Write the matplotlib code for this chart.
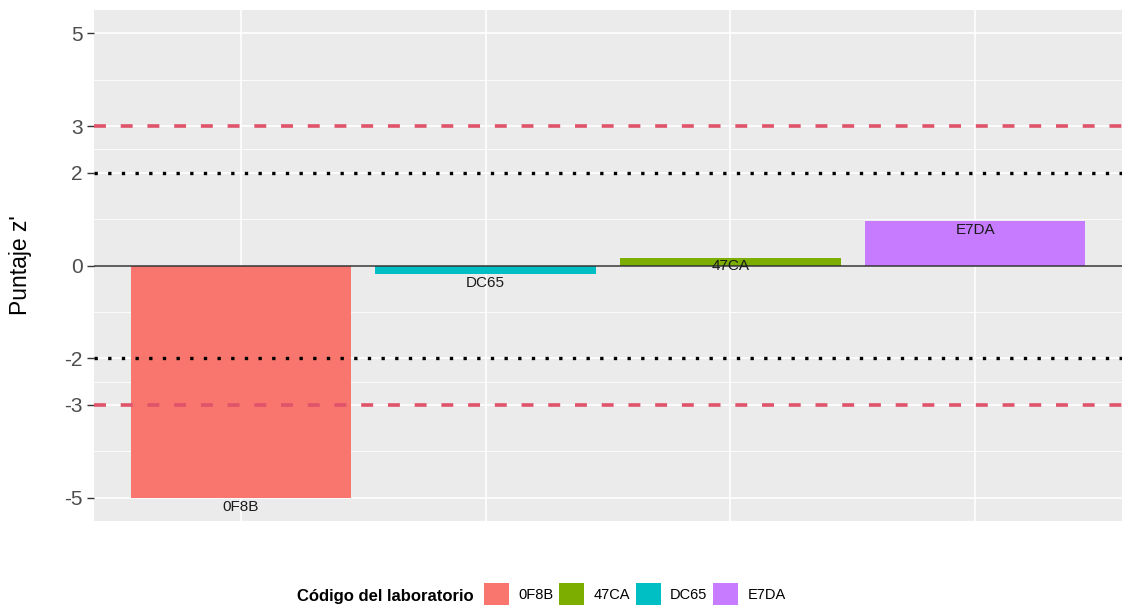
import matplotlib.pyplot as plt
from matplotlib.patches import Patch

plt.rcParams['font.family'] = ['Liberation Sans', 'DejaVu Sans']

# data
labs = ['0F8B', 'DC65', '47CA', 'E7DA']
scores = [-5.0, -0.19, 0.17, 0.95]
lab_colors = {'0F8B': '#F8766D', '47CA': '#7CAE00', 'DC65': '#00BFC4', 'E7DA': '#C77CFF'}
legend_order = ['0F8B', '47CA', 'DC65', 'E7DA']
y_ticks = [-5, -3, -2, 0, 2, 3, 5]
y_minor = [-4, -2.5, -1, 1, 2.5, 4]

W, H = 1123, 607
fig = plt.figure(figsize=(W / 100, H / 100), dpi=100)
ax = fig.add_axes([94 / W, 1 - 521 / H, (1122 - 94) / W, (521 - 10) / H])
ax.set_facecolor('#EBEBEB')
for s in ax.spines.values():
    s.set_visible(False)

x = list(range(1, len(labs) + 1))
ax.set_xlim(0.4, len(labs) + 0.6)
ax.set_ylim(-5.5, 5.5)

# grid
for v in y_minor:
    ax.axhline(v, color='white', lw=0.6, zorder=0)
for v in y_ticks:
    ax.axhline(v, color='white', lw=1.2, zorder=0)
for v in x:
    ax.axvline(v, color='white', lw=1.2, zorder=0)

ax.bar(x, scores, width=0.9, color=[lab_colors[l] for l in labs], zorder=2)
for xi, lab, val in zip(x, labs, scores):
    ax.text(xi, val - 0.04, lab, ha='center', va='top', fontsize=11, color='#1a1a1a', zorder=4)

ax.axhline(0, color='#333333', lw=1.1, zorder=3)
for v in (2, -2):
    ax.axhline(v, color='black', lw=2.4, ls=(0, (1, 3.1)), zorder=3)
for v in (3, -3):
    ax.axhline(v, color='#DF536B', lw=2.6, ls=(0, (3.3, 4.1)), zorder=3)

ax.set_xticks([])
ax.set_yticks(y_ticks)
ax.set_yticklabels([str(v) for v in y_ticks], fontsize=15, color='#4D4D4D')
ax.tick_params(axis='y', length=5, width=1, color='#333333', pad=3)
ax.set_ylabel("Puntaje z'", fontsize=16.5, labelpad=23)

# legend at bottom
fig.text(297 / W, 1 - 596 / H, 'Código del laboratorio', fontsize=12, fontweight='bold',
         ha='left', va='center')
handles = [Patch(facecolor=lab_colors[l], edgecolor='none') for l in legend_order]
fig.legend(handles, legend_order, loc='center left', bbox_to_anchor=(484 / W, 1 - 594 / H),
           ncol=4, frameon=False, fontsize=10.5, handlelength=1.7, handleheight=2.0,
           handletextpad=0.65, columnspacing=0.4, borderpad=0, borderaxespad=0)

fig.savefig('out.png', dpi=100)
